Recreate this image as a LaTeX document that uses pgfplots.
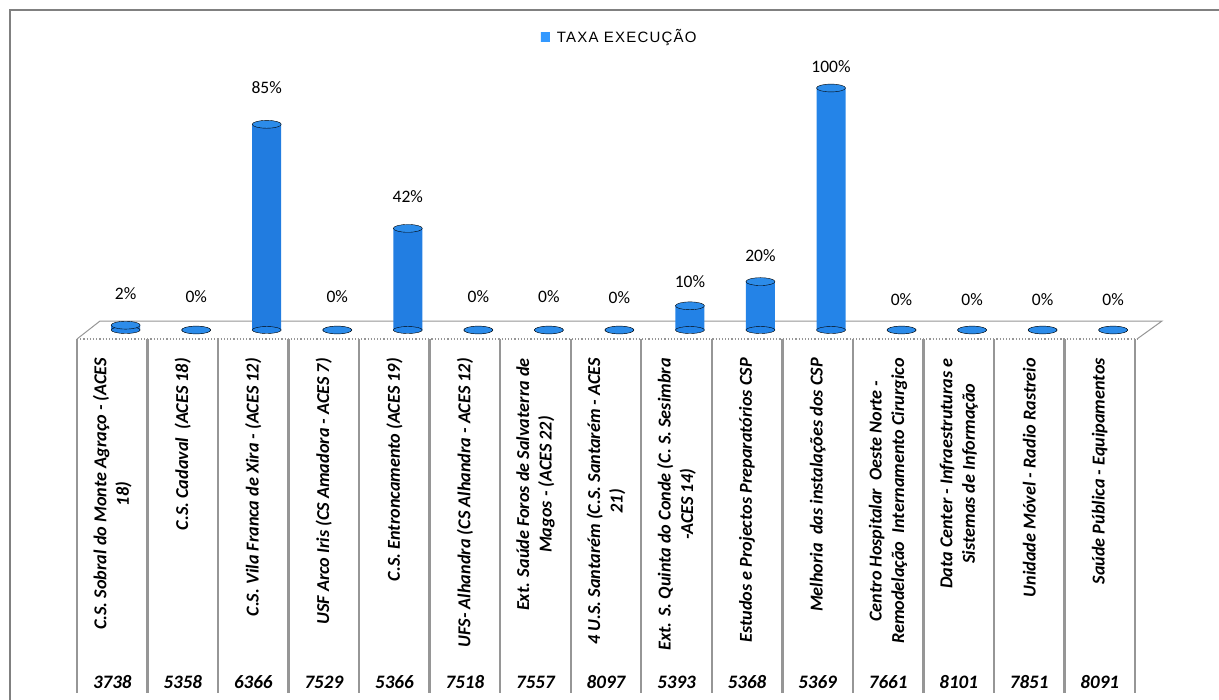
\documentclass[border=0pt]{standalone}
\usepackage{fontspec}
\setmainfont{Liberation Sans}
\newfontfamily\lab{Carlito}
\newfontfamily\legfont{Liberation Sans}[LetterSpace=8]
\usepackage{pgfplots}
\pgfplotsset{compat=1.18}
\usepackage{pgfplotstable}

\definecolor{barL}{RGB}{32,122,222}
\definecolor{barM}{RGB}{66,164,255}
\definecolor{barR}{RGB}{38,136,236}
\definecolor{barT}{RGB}{44,140,234}
\definecolor{barB}{RGB}{36,132,232}
\definecolor{legsq}{RGB}{51,153,255}
\definecolor{frame}{RGB}{128,128,128}
\definecolor{grid}{RGB}{150,150,150}

\pgfplotstableread{
i v ly
0 2 14.9
1 0 14.0
2 85 100
3 0 13.6
4 42 55
5 0 13.6
6 0 13.6
7 0 13.2
8 10 19.8
9 20 30.6
10 100 108.7
11 0 12.4
12 0 12.4
13 0 12.4
14 0 12.4
}\datatable

\begin{document}
\begin{tikzpicture}
\path[use as bounding box] (0,0) rectangle (1219bp,-700bp);
% outer frame
\draw[frame, line width=2.4bp] (10bp,-700bp) -- (10bp,-10bp) -- (1219bp,-10bp);
% floor
\fill[white] (77bp,-339bp) -- (100bp,-321bp) -- (1162bp,-321bp) -- (1137bp,-339bp) -- cycle;
\draw[grid, line width=1bp] (77bp,-339bp) -- (100bp,-321bp) -- (1162bp,-321bp) -- (1137bp,-339bp);
\draw[grid, line width=1.2bp, dotted] (77bp,-339bp) -- (1137bp,-339bp);
% table lines
\foreach \k in {0,...,15}{
  \pgfmathsetmacro\xx{77+70.533*\k}
  \draw[grid, line width=2.4bp] (\xx bp,-339bp) -- (\xx bp,-693bp);
}
\begin{axis}[
  at={(77bp,-339bp)}, anchor=south west, scale only axis,
  width=1058bp, height=329bp,
  xmin=-0.5, xmax=14.5, ymin=-3.719, ymax=132.23,
  axis line style={draw=none}, ytick=\empty, xtick={0,...,14},
  major tick length=0pt, clip=false,
  xticklabels={
    {C.S. Sobral do Monte Agraço - (ACES\\18)},
    {C.S. Cadaval\ \ (ACES 18)},
    {C.S. Vila Franca de Xira - (ACES 12)},
    {USF Arco Iris (CS Amadora - ACES 7)},
    {C.S. Entroncamento (ACES 19)},
    {UFS- Alhandra (CS Alhandra - ACES 12)},
    {Ext. Saúde Foros de Salvaterra de\\Magos - (ACES 22)},
    {4 U.S. Santarém (C.S. Santarém - ACES\\21)},
    {Ext. S. Quinta do Conde (C. S. Sesimbra\\-ACES 14)},
    {Estudos e Projectos Preparatórios CSP},
    {Melhoria\ \ das instalações dos CSP},
    {Centro Hospitalar\ \ Oeste Norte -\\Remodelação\ \ Internamento Cirurgico},
    {Data Center - Infraestruturas e\\Sistemas de Informação},
    {Unidade Móvel - Radio Rastreio},
    {Saúde Pública - Equipamentos}},
  xticklabel style={yshift=-19bp, rotate=90, anchor=east, inner sep=0pt, align=center,
    font=\lab\bfseries\itshape\fontsize{18.2bp}{22.5bp}\selectfont},
  legend style={at={(0.513,0.918)}, anchor=center, draw=none, fill=none,
    font=\legfont\fontsize{15bp}{17bp}\selectfont, inner sep=1bp},
]
% bottom ellipses
\addplot[only marks, mark=*, mark size=14.5bp,
  mark options={yscale=0.24, draw=none, fill=barB}, forget plot]
  table[x expr=\thisrow{i}+0.19, y expr=0] {\datatable};
% cylinder bodies
\addplot[ybar, bar width=29bp, bar shift=0pt, draw=none,
  left color=barL, middle color=barM, right color=barR,
  legend image code/.code={\path (0bp,0bp) -- (14bp,0bp);\path[left color=legsq, right color=legsq, middle color=legsq] (0bp,-4.5bp) rectangle (9bp,4.5bp);}]
  table[x expr=\thisrow{i}+0.19, y=v] {\datatable};
\addlegendentry{TAXA EXECUÇÃO}
% top ellipses
\addplot[only marks, mark=*, mark size=14.5bp,
  mark options={yscale=0.27, draw=none, fill=barT}, forget plot]
  table[x expr=\thisrow{i}+0.19, y=v] {\datatable};
% value labels
\addplot[draw=none, mark=none, forget plot, point meta=explicit symbolic,
  nodes near coords={\pgfplotspointmeta\%},
  every node near coord/.append style={anchor=center, inner sep=0pt,
    font=\lab\fontsize{17.5bp}{17.5bp}\selectfont}]
  table[x expr=\thisrow{i}+0.19, y=ly, meta=v] {\datatable};
\end{axis}
\begin{axis}[
  at={(77bp,-339bp)}, anchor=south west, scale only axis,
  width=1058bp, height=329bp,
  xmin=-0.5, xmax=14.5, ymin=0, ymax=1,
  axis line style={draw=none}, ytick=\empty, xtick={0,...,14},
  major tick length=0pt,
  xticklabels={3738,5358,6366,7529,5366,7518,7557,8097,5393,5368,5369,7661,8101,7851,8091},
  xticklabel style={yshift=-343bp, anchor=center, inner sep=0pt,
    font=\lab\bfseries\itshape\fontsize{19bp}{19bp}\selectfont},
]
\addplot[draw=none, mark=none] coordinates {(0,0.5)};
\end{axis}
\end{tikzpicture}
\end{document}
